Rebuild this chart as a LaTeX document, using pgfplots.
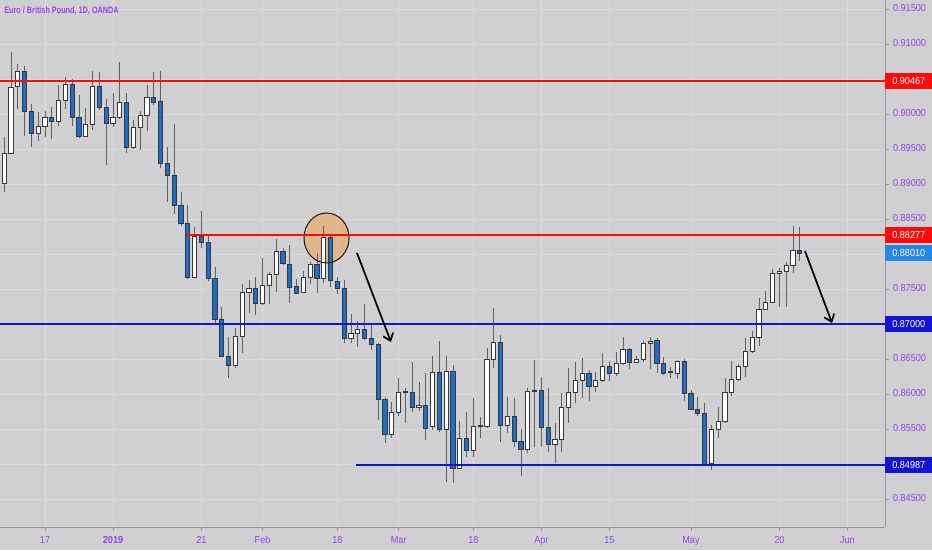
\documentclass[border=0pt]{standalone}
\usepackage{pgfplots}
\pgfplotsset{compat=1.18}
\usepackage{pgfplotstable}
\usetikzlibrary{arrows.meta}
\usepackage{fontspec}
\setmainfont{Liberation Sans}[FakeStretch=0.9]
\newfontfamily\titlefont{Liberation Sans}[FakeStretch=0.78]
\definecolor{bg}{RGB}{208,208,210}
\definecolor{gridc}{RGB}{219,219,221}
\definecolor{axc}{RGB}{150,150,155}
\definecolor{tvpurple}{RGB}{145,70,230}
\definecolor{candleblue}{RGB}{30,110,200}
\definecolor{lred}{RGB}{255,10,10}
\definecolor{lblue}{RGB}{20,20,215}
\definecolor{pblue}{RGB}{35,135,230}
\definecolor{circfill}{RGB}{245,140,20}

% white (bullish) candles: index, low, open, close, high
\pgfplotstableread{
i L O C H
-6 0.88886 0.89014 0.89443 0.89671
-5 0.89443 0.89443 0.90386 0.90886
-4 0.90071 0.90400 0.90614 0.90714
-1 0.89614 0.89729 0.89829 0.90029
0 0.89671 0.89829 0.89957 0.90043
2 0.89829 0.89900 0.90200 0.90414
3 0.90071 0.90200 0.90429 0.90529
6 0.89671 0.89686 0.89857 0.90086
7 0.89771 0.89857 0.90400 0.90614
10 0.89814 0.89871 0.89957 0.90300
11 0.89929 0.89957 0.90171 0.90743
13 0.89500 0.89529 0.89814 0.89914
14 0.89486 0.89814 0.89986 0.90043
15 0.89757 0.89986 0.90243 0.90414
22 0.87657 0.87671 0.88257 0.88386
28 0.86371 0.86414 0.86829 0.86943
29 0.86586 0.86829 0.87457 0.87571
30 0.87157 0.87457 0.87514 0.87629
32 0.87271 0.87300 0.87557 0.87943
33 0.87286 0.87557 0.87714 0.87743
34 0.87457 0.87714 0.88043 0.88214
38 0.87443 0.87457 0.87671 0.87757
39 0.87571 0.87671 0.87857 0.87886
41 0.87586 0.87657 0.88243 0.88400
45 0.86729 0.86800 0.86871 0.87143
46 0.86671 0.86871 0.86929 0.87043
51 0.85371 0.85429 0.85743 0.85886
52 0.85686 0.85743 0.86029 0.86229
53 0.85586 0.86029 0.86043 0.86086
55 0.85757 0.85814 0.85843 0.86171
57 0.85486 0.85543 0.86314 0.86543
59 0.84743 0.85500 0.86329 0.86543
61 0.84943 0.84943 0.85371 0.85614
63 0.85100 0.85200 0.85543 0.85943
64 0.85371 0.85543 0.85557 0.85671
65 0.85514 0.85543 0.86500 0.86657
66 0.86371 0.86500 0.86743 0.87229
68 0.85443 0.85557 0.85686 0.85957
71 0.85157 0.85214 0.86043 0.86086
72 0.85243 0.86043 0.86057 0.86486
75 0.85014 0.85286 0.85357 0.85586
76 0.85171 0.85357 0.85814 0.86014
77 0.85586 0.85814 0.86029 0.86371
78 0.85871 0.86029 0.86200 0.86457
79 0.85943 0.86200 0.86300 0.86514
81 0.86029 0.86114 0.86200 0.86314
82 0.86171 0.86200 0.86400 0.86586
84 0.86257 0.86300 0.86443 0.86600
85 0.86414 0.86443 0.86643 0.86814
87 0.86443 0.86457 0.86500 0.86543
88 0.86457 0.86500 0.86729 0.86757
89 0.86357 0.86729 0.86757 0.86814
92 0.86229 0.86307 0.86321 0.86386
93 0.86214 0.86300 0.86471 0.86486
98 0.84914 0.85014 0.85500 0.85557
99 0.85371 0.85500 0.85614 0.85814
100 0.85586 0.85614 0.86029 0.86229
101 0.85971 0.86029 0.86214 0.86471
102 0.86186 0.86214 0.86400 0.86429
103 0.86243 0.86400 0.86614 0.86800
104 0.86586 0.86614 0.86814 0.86900
105 0.86686 0.86814 0.87214 0.87371
106 0.87200 0.87214 0.87314 0.87471
107 0.87300 0.87314 0.87729 0.87786
108 0.87243 0.87729 0.87757 0.87800
109 0.87243 0.87757 0.87843 0.87886
110 0.87729 0.87843 0.88057 0.88400
}\whitec

% blue (bearish) candles: index, low, open, close, high
\pgfplotstableread{
i L O C H
-3 0.89686 0.90614 0.90043 0.90686
-2 0.89529 0.90043 0.89729 0.90143
1 0.89643 0.89957 0.89900 0.90100
4 0.89829 0.90429 0.89957 0.90500
5 0.89657 0.89957 0.89686 0.90271
8 0.90057 0.90400 0.90100 0.90600
9 0.89271 0.90100 0.89871 0.90214
12 0.89443 0.90171 0.89529 0.90300
16 0.90129 0.90243 0.90171 0.90600
17 0.89229 0.90186 0.89300 0.90614
18 0.88743 0.89300 0.89129 0.89529
19 0.88571 0.89129 0.88700 0.89857
20 0.88400 0.88700 0.88443 0.88886
21 0.87643 0.88443 0.87671 0.88700
23 0.88086 0.88257 0.88171 0.88614
24 0.87614 0.88171 0.87657 0.88257
25 0.87014 0.87657 0.87071 0.87814
26 0.86529 0.87071 0.86543 0.87243
27 0.86229 0.86543 0.86414 0.86814
31 0.87129 0.87514 0.87300 0.87671
35 0.87843 0.88043 0.87871 0.88086
36 0.87300 0.87857 0.87529 0.88129
37 0.87429 0.87543 0.87443 0.87643
40 0.87443 0.87857 0.87657 0.88014
42 0.87529 0.88243 0.87629 0.88257
43 0.87429 0.87614 0.87514 0.87671
44 0.86729 0.87514 0.86800 0.87629
47 0.86771 0.86929 0.86800 0.87286
48 0.86629 0.86800 0.86714 0.86986
49 0.85629 0.86714 0.85929 0.86729
50 0.85300 0.85929 0.85429 0.85957
54 0.85743 0.86029 0.85814 0.86457
56 0.85343 0.85843 0.85514 0.86300
58 0.85457 0.86314 0.85500 0.86757
60 0.84729 0.86329 0.84943 0.86414
62 0.85100 0.85371 0.85200 0.85743
67 0.85314 0.86743 0.85557 0.86843
69 0.85243 0.85686 0.85329 0.85943
70 0.84829 0.85329 0.85214 0.85500
73 0.85243 0.86057 0.85529 0.86243
74 0.85171 0.85529 0.85286 0.86086
80 0.85900 0.86300 0.86114 0.86343
83 0.86186 0.86400 0.86300 0.86471
86 0.86357 0.86643 0.86457 0.86657
90 0.86300 0.86771 0.86443 0.86800
91 0.86271 0.86443 0.86300 0.86529
94 0.85900 0.86471 0.86014 0.86500
95 0.85771 0.86014 0.85786 0.86057
96 0.85686 0.85786 0.85729 0.85957
97 0.84986 0.85729 0.85000 0.85871
111 0.87900 0.88057 0.88010 0.88386
}\bluec

\pgfplotsset{
  wick/.style={draw=black!62, line width=0.7pt, mark=none},
  body/.style={draw=black!78, line width=0.65pt, mark=none, line join=miter},
}
\newcommand{\tickfont}{\fontsize{7.6pt}{8pt}\selectfont}

\begin{document}
\begin{tikzpicture}
\useasboundingbox (0,0) rectangle (699pt,412.5pt);
\fill[bg] (0,0) rectangle (699pt,412.5pt);
\pgfplotstablegetrowsof{\whitec}\pgfmathtruncatemacro\nw{\pgfplotsretval-1}
\pgfplotstablegetrowsof{\bluec}\pgfmathtruncatemacro\nb{\pgfplotsretval-1}
\begin{axis}[
  at={(0pt,17.25pt)}, anchor=south west,
  scale only axis, width=663.75pt, height=395.25pt,
  xmin=-6.618, xmax=123.53, ymin=0.841, ymax=0.916286,
  enlargelimits=false, clip=false,
  axis x line*=bottom, axis y line*=right,
  axis line style={draw=axc, line width=0.75pt},
  tick style={draw=axc, line width=0.75pt},
  tick align=outside, major tick length=3pt,
  grid=major, grid style={draw=gridc, line width=0.75pt},
  xtick={0,10,23,32,43,52,63,73,83,95,108,118},
  xticklabels={17,\textbf{2019},21,Feb,18,Mar,18,Apr,15,May,20,Jun},
  ytick={0.845,0.85,0.855,0.86,0.865,0.87,0.875,0.88,0.885,0.89,0.895,0.9,0.905,0.91,0.915},
  yticklabels={0.84500,,0.85500,0.86000,0.86500,,0.87500,,0.88500,0.89000,0.89500,0.90000,,0.91000,0.91500},
  typeset ticklabels with strut,
  yticklabel style={anchor=west, xshift=-0.5pt},
  ticklabel style={font=\tickfont, text=tvpurple},
  xticklabel style={yshift=0pt},
]
% circle fill (under candles)
\fill[circfill, fill opacity=0.38] (axis cs:41.4,0.88229) ellipse [x radius=16.9pt, y radius=18.75pt];

\pgfplotsinvokeforeach{0,...,\nw}{
  \pgfplotstablegetelem{#1}{i}\of\whitec \let\ci\pgfplotsretval
  \pgfplotstablegetelem{#1}{L}\of\whitec \let\cl\pgfplotsretval
  \pgfplotstablegetelem{#1}{O}\of\whitec \let\co\pgfplotsretval
  \pgfplotstablegetelem{#1}{C}\of\whitec \let\cc\pgfplotsretval
  \pgfplotstablegetelem{#1}{H}\of\whitec \let\ch\pgfplotsretval
  \pgfmathsetmacro\xa{\ci-0.31}\pgfmathsetmacro\xb{\ci+0.31}
  \edef\temp{\noexpand\addplot[wick] coordinates {(\ci,\cl) (\ci,\ch)};
    \noexpand\addplot[body, fill=white] coordinates {(\xa,\co) (\xb,\co) (\xb,\cc) (\xa,\cc)} -- cycle;}
  \temp
}
\pgfplotsinvokeforeach{0,...,\nb}{
  \pgfplotstablegetelem{#1}{i}\of\bluec \let\ci\pgfplotsretval
  \pgfplotstablegetelem{#1}{L}\of\bluec \let\cl\pgfplotsretval
  \pgfplotstablegetelem{#1}{O}\of\bluec \let\co\pgfplotsretval
  \pgfplotstablegetelem{#1}{C}\of\bluec \let\cc\pgfplotsretval
  \pgfplotstablegetelem{#1}{H}\of\bluec \let\ch\pgfplotsretval
  \pgfmathsetmacro\xa{\ci-0.31}\pgfmathsetmacro\xb{\ci+0.31}
  \edef\temp{\noexpand\addplot[wick] coordinates {(\ci,\cl) (\ci,\ch)};
    \noexpand\addplot[body, fill=candleblue] coordinates {(\xa,\co) (\xb,\co) (\xb,\cc) (\xa,\cc)} -- cycle;}
  \temp
}

% circle outline
\draw[black!85!brown, line width=0.75pt] (axis cs:41.4,0.88229) ellipse [x radius=16.9pt, y radius=18.75pt];

% horizontal levels
\addplot[lred, line width=1.4pt] coordinates {(-6.618,0.90467) (123.53,0.90467)};
\addplot[lred, line width=1.4pt] coordinates {(20.7,0.88277) (123.53,0.88277)};
\addplot[lblue, line width=1.1pt] coordinates {(-6.618,0.87) (123.53,0.87)};
\addplot[lblue, line width=1.1pt] coordinates {(45.7,0.84987) (123.53,0.84987)};

% arrows
\draw[black, line width=1.3pt, -{Straight Barb[length=5pt, width=8pt, line width=1.3pt]}] (axis cs:45.88,0.88014) -- (axis cs:50.88,0.86743);
\draw[black, line width=1.3pt, -{Straight Barb[length=5pt, width=8pt, line width=1.3pt]}] (axis cs:111.76,0.88043) -- (axis cs:115.74,0.87014);

% price labels
\tikzset{plabel/.style={anchor=west, text=white, minimum width=35.25pt, minimum height=12pt, inner sep=0pt, font=\tickfont}}
\node[plabel, fill=lred] at (axis cs:123.53,0.90467) {0.90467};
\node[plabel, fill=lred] at (axis cs:123.53,0.88277) {0.88277};
\node[plabel, fill=pblue] at (axis cs:123.53,0.88010) {0.88010};
\node[plabel, fill=lblue] at (axis cs:123.53,0.87000) {0.87000};
\node[plabel, fill=lblue] at (axis cs:123.53,0.84987) {0.84987};
\end{axis}
\node[anchor=west, text=tvpurple, font=\titlefont\fontsize{7pt}{8pt}\selectfont\bfseries, inner sep=0pt] at (3pt,404pt) {Euro / British Pound, 1D, OANDA};
\end{tikzpicture}
\end{document}
